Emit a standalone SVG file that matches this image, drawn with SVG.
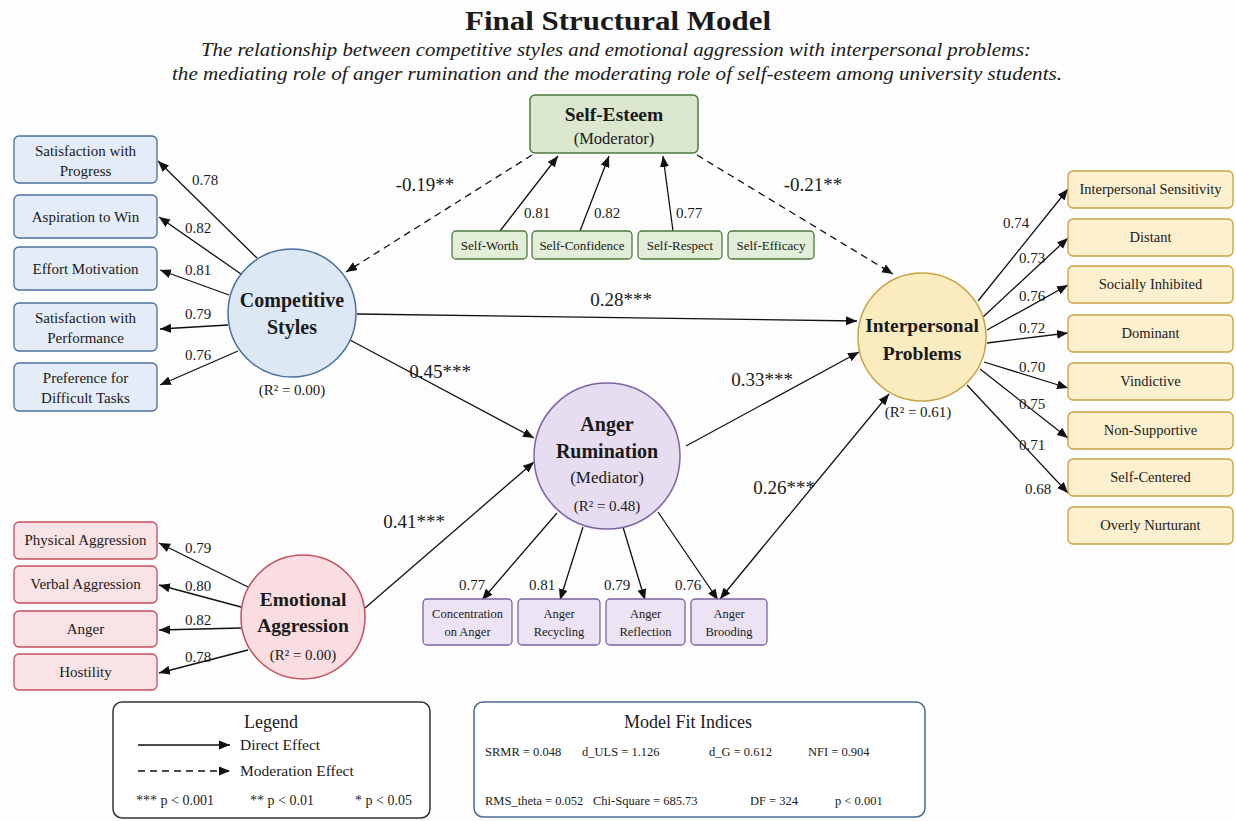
<svg xmlns="http://www.w3.org/2000/svg" width="1236" height="821" viewBox="0 0 1236 821">
<defs>
<marker id="arr" markerUnits="userSpaceOnUse" markerWidth="12" markerHeight="10" refX="11" refY="5" orient="auto-start-reverse">
<path d="M0,0.5 L11,5 L0,9.5 z" fill="#111"/>
</marker>
<style>
text{font-family:"Liberation Serif","Times New Roman",serif;fill:#1a1a1a}
.title{font-size:28px;font-weight:bold;text-anchor:middle}
.sub{font-size:19px;font-style:italic;text-anchor:middle}
.lat{font-size:20px;font-weight:bold;text-anchor:middle}
.r2{font-size:15px;text-anchor:middle}
.ind{font-size:15px;text-anchor:middle}
.ind13{font-size:14.5px;text-anchor:middle}
.ind12{font-size:13px;text-anchor:middle}
.ind12b{font-size:12.5px;text-anchor:middle}
.ld{font-size:15px;text-anchor:middle}
.coef{font-size:19px;text-anchor:middle}
.edge{stroke:#111;stroke-width:1.3;fill:none}
.dash{stroke:#111;stroke-width:1.3;fill:none;stroke-dasharray:7 5}
.cs{fill:#dde8f5;stroke:#4a6f9c;stroke-width:1.5}
.csb{fill:#e3ecf7;stroke:#4a6f9c;stroke-width:1.3}
.ip{fill:#fbecc0;stroke:#c9a241;stroke-width:1.5}
.ipb{fill:#fcf0cf;stroke:#c9a241;stroke-width:1.3}
.ar{fill:#e7ddf1;stroke:#7d62a6;stroke-width:1.5}
.arb{fill:#ece4f4;stroke:#7d62a6;stroke-width:1.3}
.ea{fill:#f9dde1;stroke:#c24f5c;stroke-width:1.5}
.eab{fill:#fae3e6;stroke:#c24f5c;stroke-width:1.3}
.se{fill:#dbe8cf;stroke:#4e7a3c;stroke-width:1.5}
.seb{fill:#e2eed8;stroke:#4e7a3c;stroke-width:1.3}
.fit{font-size:12.5px}
</style>
</defs>
<rect x="0" y="0" width="1236" height="821" fill="#fdfdfd"/>

<g id="title">
<text class="title" x="618" y="30" textLength="306" lengthAdjust="spacingAndGlyphs">Final Structural Model</text>
<text class="sub" x="616" y="56" textLength="830" lengthAdjust="spacingAndGlyphs">The relationship between competitive styles and emotional aggression with interpersonal problems:</text>
<text class="sub" x="617" y="80" textLength="890" lengthAdjust="spacingAndGlyphs">the mediating role of anger rumination and the moderating role of self-esteem among university students.</text>
</g>

<g id="connectors">
<line class="edge" x1="500" y1="231" x2="558" y2="156" marker-end="url(#arr)"/>
<line class="edge" x1="580" y1="231" x2="609" y2="156" marker-end="url(#arr)"/>
<line class="edge" x1="673" y1="231" x2="663" y2="156" marker-end="url(#arr)"/>
<line class="dash" x1="532" y1="155" x2="346" y2="272" marker-end="url(#arr)"/>
<line class="dash" x1="697" y1="155" x2="893" y2="274" marker-end="url(#arr)"/>
<line class="edge" x1="257" y1="258" x2="158" y2="161" marker-end="url(#arr)"/>
<line class="edge" x1="241" y1="274" x2="159" y2="217" marker-end="url(#arr)"/>
<line class="edge" x1="229" y1="295" x2="160" y2="270" marker-end="url(#arr)"/>
<line class="edge" x1="228" y1="325" x2="160" y2="329" marker-end="url(#arr)"/>
<line class="edge" x1="238" y1="351" x2="160" y2="385" marker-end="url(#arr)"/>
<line class="edge" x1="978" y1="301" x2="1068" y2="189" marker-end="url(#arr)"/>
<line class="edge" x1="983" y1="317" x2="1068" y2="238" marker-end="url(#arr)"/>
<line class="edge" x1="987" y1="330" x2="1068" y2="285" marker-end="url(#arr)"/>
<line class="edge" x1="987" y1="343" x2="1068" y2="333" marker-end="url(#arr)"/>
<line class="edge" x1="984" y1="362" x2="1068" y2="388" marker-end="url(#arr)"/>
<line class="edge" x1="980" y1="369" x2="1068" y2="438" marker-end="url(#arr)"/>
<line class="edge" x1="967" y1="385" x2="1068" y2="493" marker-end="url(#arr)"/>
<line class="edge" x1="248" y1="587" x2="159" y2="543" marker-end="url(#arr)"/>
<line class="edge" x1="241" y1="607" x2="159" y2="585" marker-end="url(#arr)"/>
<line class="edge" x1="241" y1="628" x2="159" y2="630" marker-end="url(#arr)"/>
<line class="edge" x1="248" y1="650" x2="159" y2="673" marker-end="url(#arr)"/>
<line class="edge" x1="557" y1="513" x2="482" y2="600" marker-end="url(#arr)"/>
<line class="edge" x1="583" y1="527" x2="560" y2="600" marker-end="url(#arr)"/>
<line class="edge" x1="623" y1="527" x2="645" y2="600" marker-end="url(#arr)"/>
<line class="edge" x1="658" y1="512" x2="718" y2="600" marker-end="url(#arr)"/>
<line class="edge" x1="357" y1="314" x2="857" y2="321" marker-end="url(#arr)"/>
<line class="edge" x1="350" y1="340" x2="534" y2="438" marker-end="url(#arr)"/>
<line class="edge" x1="686" y1="446" x2="859" y2="352" marker-end="url(#arr)"/>
<line class="edge" x1="365" y1="608" x2="534" y2="462" marker-end="url(#arr)"/>
<line class="edge" x1="720" y1="599" x2="889" y2="394" marker-start="url(#arr)" marker-end="url(#arr)"/>
<text class="ld" x="537" y="218">0.81</text>
<text class="ld" x="607" y="218">0.82</text>
<text class="ld" x="689" y="218">0.77</text>
<text class="coef" x="425" y="191">-0.19**</text>
<text class="coef" x="813" y="191">-0.21**</text>
<text class="ld" x="205" y="185">0.78</text>
<text class="ld" x="198" y="233">0.82</text>
<text class="ld" x="198" y="275">0.81</text>
<text class="ld" x="198" y="319">0.79</text>
<text class="ld" x="198" y="360">0.76</text>
<text class="ld" x="1016" y="228">0.74</text>
<text class="ld" x="1032" y="263">0.73</text>
<text class="ld" x="1032" y="301">0.76</text>
<text class="ld" x="1032" y="333">0.72</text>
<text class="ld" x="1032" y="372">0.70</text>
<text class="ld" x="1032" y="409">0.75</text>
<text class="ld" x="1032" y="450">0.71</text>
<text class="ld" x="1038" y="494">0.68</text>
<text class="ld" x="198" y="553">0.79</text>
<text class="ld" x="198" y="591">0.80</text>
<text class="ld" x="198" y="625">0.82</text>
<text class="ld" x="198" y="662">0.78</text>
<text class="ld" x="472" y="590">0.77</text>
<text class="ld" x="542" y="590">0.81</text>
<text class="ld" x="617" y="590">0.79</text>
<text class="ld" x="688" y="590">0.76</text>
<text class="coef" x="621" y="306">0.28***</text>
<text class="coef" x="440" y="378">0.45***</text>
<text class="coef" x="762" y="386">0.33***</text>
<text class="coef" x="414" y="528">0.41***</text>
<text class="coef" x="784" y="494">0.26***</text>
</g>

<g id="self-esteem">
<rect class="se" x="530" y="95" width="168" height="58" rx="5"/>
<text x="614" y="121" style="font-size:19.5px;font-weight:bold;text-anchor:middle">Self-Esteem</text>
<text x="614" y="144" style="font-size:16.5px;text-anchor:middle">(Moderator)</text>
</g>
<g id="se-indicators">
<rect class="seb" x="452" y="231" width="75" height="28" rx="4"/><text class="ind12" x="489.5" y="250">Self-Worth</text>
<rect class="seb" x="532" y="231" width="100" height="28" rx="4"/><text class="ind12" x="582" y="250">Self-Confidence</text>
<rect class="seb" x="638" y="231" width="84" height="28" rx="4"/><text class="ind12" x="680" y="250">Self-Respect</text>
<rect class="seb" x="728" y="231" width="86" height="28" rx="4"/><text class="ind12" x="771" y="250">Self-Efficacy</text>
</g>

<g id="competitive-styles">
<circle class="cs" cx="292" cy="313" r="64"/>
<text class="lat" x="292" y="307">Competitive</text>
<text class="lat" x="292" y="334">Styles</text>
<text class="r2" x="292" y="395">(R² = 0.00)</text>
</g>
<g id="cs-indicators">
<rect class="csb" x="14" y="136" width="143" height="47" rx="5"/><text class="ind" x="85.5" y="156">Satisfaction with</text><text class="ind" x="85.5" y="176">Progress</text>
<rect class="csb" x="14" y="195" width="143" height="43" rx="5"/><text class="ind" x="85.5" y="222">Aspiration to Win</text>
<rect class="csb" x="14" y="247" width="143" height="43" rx="5"/><text class="ind" x="85.5" y="274">Effort Motivation</text>
<rect class="csb" x="14" y="303" width="143" height="48" rx="5"/><text class="ind" x="85.5" y="323">Satisfaction with</text><text class="ind" x="85.5" y="343">Performance</text>
<rect class="csb" x="14" y="363" width="143" height="48" rx="5"/><text class="ind" x="85.5" y="383">Preference for</text><text class="ind" x="85.5" y="403">Difficult Tasks</text>
</g>

<g id="interpersonal-problems">
<circle class="ip" cx="922" cy="337" r="64"/>
<text class="lat" x="922" y="332" style="font-size:19.5px">Interpersonal</text>
<text class="lat" x="922" y="360" style="font-size:19.5px">Problems</text>
<text class="r2" x="918" y="417">(R² = 0.61)</text>
</g>
<g id="ip-indicators">
<rect class="ipb" x="1068" y="171" width="165" height="37" rx="5"/><text class="ind13" x="1150.5" y="194">Interpersonal Sensitivity</text>
<rect class="ipb" x="1068" y="219" width="165" height="37" rx="5"/><text class="ind13" x="1150.5" y="242">Distant</text>
<rect class="ipb" x="1068" y="266" width="165" height="37" rx="5"/><text class="ind13" x="1150.5" y="289">Socially Inhibited</text>
<rect class="ipb" x="1068" y="315" width="165" height="37" rx="5"/><text class="ind13" x="1150.5" y="338">Dominant</text>
<rect class="ipb" x="1068" y="363" width="165" height="37" rx="5"/><text class="ind13" x="1150.5" y="386">Vindictive</text>
<rect class="ipb" x="1068" y="412" width="165" height="37" rx="5"/><text class="ind13" x="1150.5" y="435">Non-Supportive</text>
<rect class="ipb" x="1068" y="459" width="165" height="37" rx="5"/><text class="ind13" x="1150.5" y="482">Self-Centered</text>
<rect class="ipb" x="1068" y="507" width="165" height="37" rx="5"/><text class="ind13" x="1150.5" y="530">Overly Nurturant</text>
</g>

<g id="anger-rumination">
<circle class="ar" cx="607" cy="456" r="73"/>
<text class="lat" x="607" y="431">Anger</text>
<text class="lat" x="607" y="458">Rumination</text>
<text x="607" y="483" style="font-size:17px;text-anchor:middle">(Mediator)</text>
<text class="r2" x="607" y="511">(R² = 0.48)</text>
</g>
<g id="ar-indicators">
<rect class="arb" x="423" y="599" width="89" height="46" rx="4"/><text class="ind12b" x="467.5" y="618">Concentration</text><text class="ind12b" x="467.5" y="636">on Anger</text>
<rect class="arb" x="518" y="599" width="82" height="46" rx="4"/><text class="ind12b" x="559" y="618">Anger</text><text class="ind12b" x="559" y="636">Recycling</text>
<rect class="arb" x="606" y="599" width="79" height="46" rx="4"/><text class="ind12b" x="645.5" y="618">Anger</text><text class="ind12b" x="645.5" y="636">Reflection</text>
<rect class="arb" x="691" y="599" width="76" height="46" rx="4"/><text class="ind12b" x="729" y="618">Anger</text><text class="ind12b" x="729" y="636">Brooding</text>
</g>

<g id="emotional-aggression">
<circle class="ea" cx="303" cy="617" r="62"/>
<text class="lat" x="303" y="606" style="font-size:19.5px">Emotional</text>
<text class="lat" x="303" y="632" style="font-size:19.5px">Aggression</text>
<text class="r2" x="303" y="660">(R² = 0.00)</text>
</g>
<g id="ea-indicators">
<rect class="eab" x="14" y="522" width="143" height="37" rx="5"/><text class="ind" x="85.5" y="545">Physical Aggression</text>
<rect class="eab" x="14" y="566" width="143" height="37" rx="5"/><text class="ind" x="85.5" y="589">Verbal Aggression</text>
<rect class="eab" x="14" y="611" width="143" height="36" rx="5"/><text class="ind" x="85.5" y="634">Anger</text>
<rect class="eab" x="14" y="654" width="143" height="36" rx="5"/><text class="ind" x="85.5" y="677">Hostility</text>
</g>

<g id="legend">
<rect x="113" y="702" width="317" height="116" rx="9" fill="#fff" stroke="#333" stroke-width="1.5"/>
<text x="271" y="728" style="font-size:18px;text-anchor:middle">Legend</text>
<line class="edge" x1="138" y1="745" x2="230" y2="745" marker-end="url(#arr)"/>
<text x="240" y="750" style="font-size:15.5px">Direct Effect</text>
<line class="dash" x1="138" y1="771" x2="230" y2="771" stroke-dasharray="6 4" marker-end="url(#arr)"/>
<text x="240" y="776" style="font-size:15.5px">Moderation Effect</text>
<text x="136" y="805" style="font-size:14px">*** p &lt; 0.001</text>
<text x="250" y="805" style="font-size:14px">** p &lt; 0.01</text>
<text x="355" y="805" style="font-size:14px">* p &lt; 0.05</text>
</g>

<g id="model-fit">
<rect x="474" y="702" width="451" height="115" rx="9" fill="#fff" stroke="#4a6a95" stroke-width="1.5"/>
<text x="688" y="728" style="font-size:18px;text-anchor:middle">Model Fit Indices</text>
<text class="fit" x="485" y="756">SRMR = 0.048</text>
<text class="fit" x="582" y="756">d_ULS = 1.126</text>
<text class="fit" x="709" y="756">d_G = 0.612</text>
<text class="fit" x="808" y="756">NFI = 0.904</text>
<text class="fit" x="485" y="805">RMS_theta = 0.052</text>
<text class="fit" x="593" y="805">Chi-Square = 685.73</text>
<text class="fit" x="750" y="805">DF = 324</text>
<text class="fit" x="835" y="805">p &lt; 0.001</text>
</g>
</svg>
